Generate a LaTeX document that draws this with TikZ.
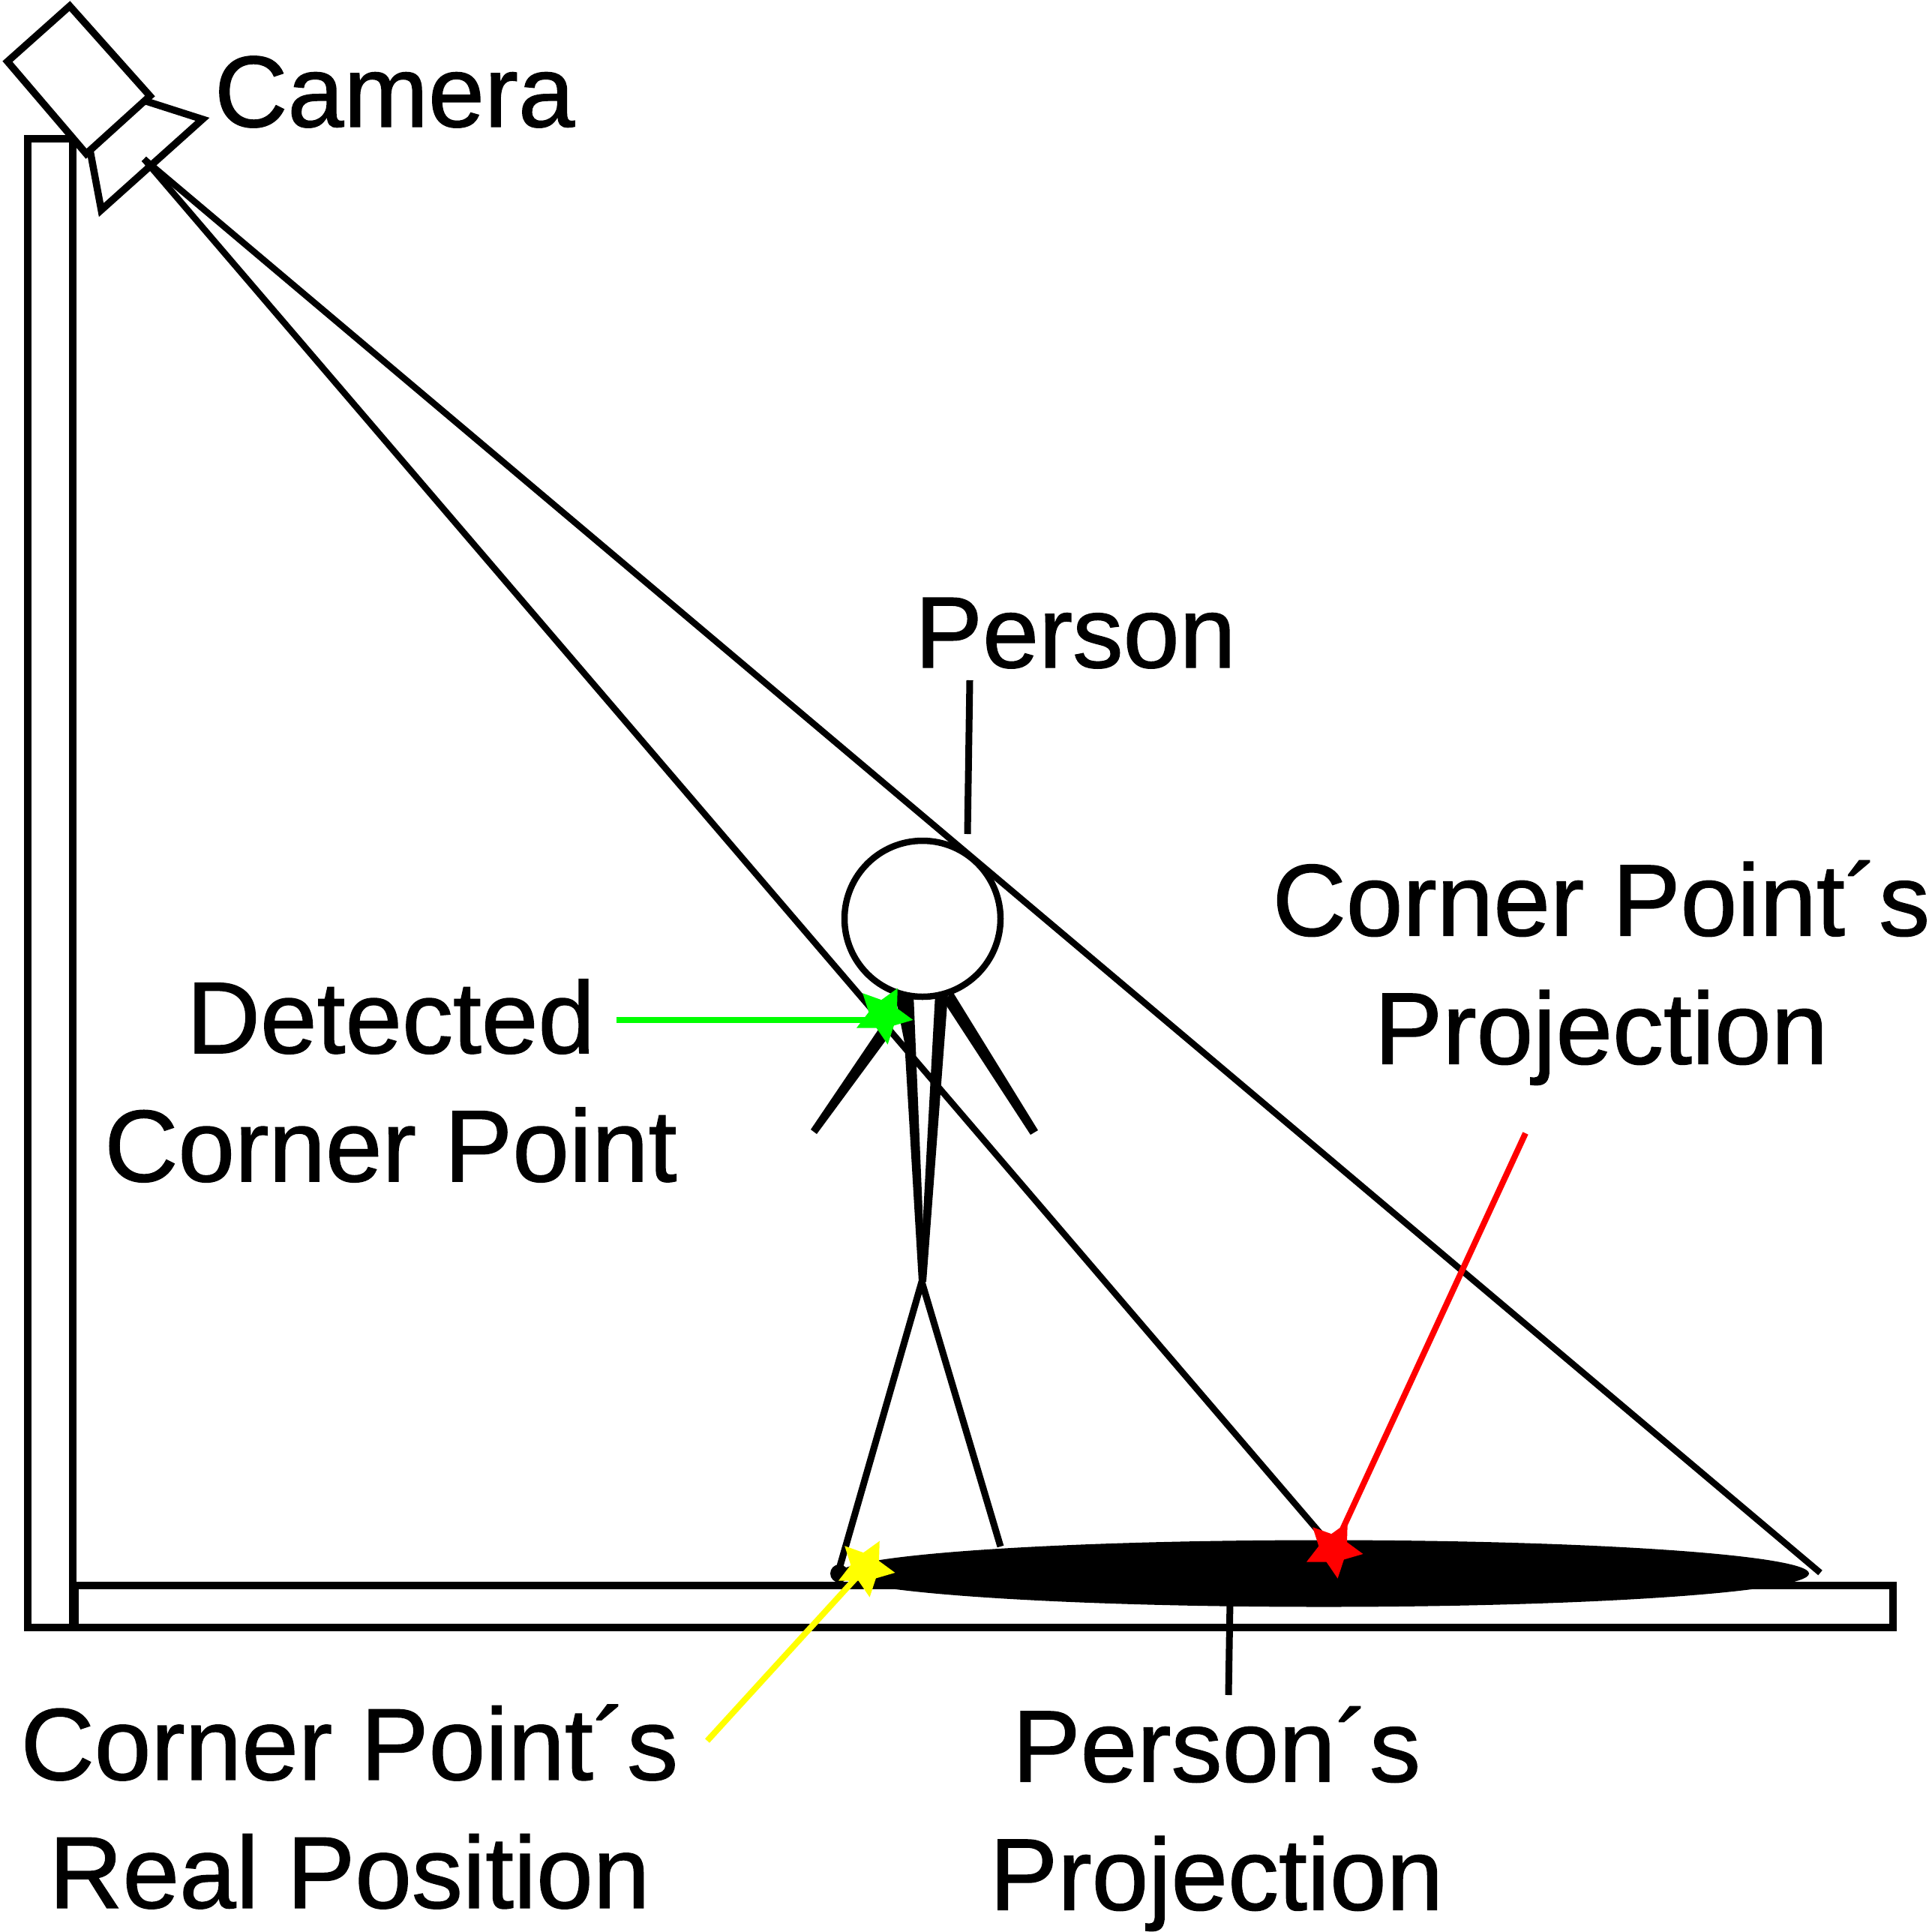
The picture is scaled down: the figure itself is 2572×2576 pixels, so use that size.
\documentclass[tikz,border=0pt]{standalone}
\usepackage{fontspec}
\setmainfont[FakeBold=1]{Liberation Sans}
\usetikzlibrary{shapes.geometric}
\tikzset{
  every picture/.style={x=1pt,y=-1pt},
  ink/.style={draw=black,line width=9.5pt,line join=miter},
  ray/.style={draw=black,line width=8.5pt},
  thin ink/.style={draw=black,line width=9pt},
  limb/.style={fill=black,draw=none},
  label text/.style={inner sep=0pt,outer sep=0pt,align=center,font=\fontsize{136}{171}\selectfont},
  short label/.style={label text,font=\fontsize{135}{171}\selectfont},
  marker/.style={star,star points=5,star point ratio=2.0,inner sep=0pt,minimum size=80pt,draw=none,shape border rotate=-28},
  leader/.style={line width=8pt}
}
\definecolor{pgreen}{RGB}{0,255,0}
\definecolor{pred}{RGB}{255,0,0}
\definecolor{pyellow}{RGB}{255,255,0}
\begin{document}
\begin{tikzpicture}
\useasboundingbox[fill=white] (0,0) rectangle (2572,2576);
% wall and floor
\draw[ink] (37,185) rectangle (97,2170);
\draw[ink] (100,2114) rectangle (2524,2170);
% camera
\draw[ink,fill=white] (93,8) -- (10,82) -- (115,205) -- (200,128) -- cycle;
\draw[ink] (195,135) -- (270,159) -- (135,280) -- (120,200);
% coordinates for the ray ends
\coordinate (apex) at (192,212);
\coordinate (rayEnd) at (2427,2097);
\coordinate (redpos) at (1778,2065);
% person's projection
\node[ellipse,fill=black,inner sep=0pt,minimum width=1294pt,minimum height=89pt] (shadow) at (1765,2098) {};
\fill (1119,2098) circle (12pt);
% rays
\draw[ray] (apex) -- (rayEnd);
\draw[ray] (apex) -- (redpos);
% head
\node[circle,draw=black,line width=8.5pt,inner sep=0pt,minimum size=208pt] (head) at (1230,1225) {};
% body
\coordinate (crotch) at (1229,1709);
\fill[limb] (1193,1325) -- (1218,1325) -- (1234,1709) -- (1225,1709) -- (1206,1390) -- cycle;
\fill[limb] (1247,1325) -- (1264,1325) -- (1235,1709) -- (1226,1709) -- cycle;
\fill[limb] (1195,1335) -- (1175,1367) -- (1081,1506) -- (1089,1512) -- (1190,1375) -- cycle;
\fill[limb] (1258,1335) -- (1270,1322) -- (1384,1507) -- (1374,1513) -- cycle;
\draw[thin ink] (crotch) -- (1120,2088);
\draw[thin ink] (crotch) -- (1334,2062);
% markers and their connectors
\node[marker,fill=pred] (redstar) at (redpos) {};
\node[marker,fill=pgreen] (greenstar) at (1178,1353) {};
\node[marker,fill=pyellow] (yellowstar) at (1154,2090) {};
\coordinate (greenFrom) at (822,1360);
\coordinate (redFrom) at (2034,1511);
\coordinate (yellowFrom) at (943,2321);
\draw[leader,draw=pgreen] (greenFrom) -- (greenFrom -| greenstar.center);
\draw[leader,draw=pred] (redFrom) -- (redstar.center);
\draw[leader,draw=pyellow] (yellowFrom) -- (yellowstar.center);
% plain leaders
\coordinate (personTop) at (1293,907);
\coordinate (personBottom) at (1290,1112);
\coordinate (shadowLabelEnd) at (1638,2260);
\draw[thin ink] (personTop) -- (personBottom);
\draw[thin ink] (1640,2135) -- (shadowLabelEnd);
% labels
\node[short label,anchor=base west] (lcam) at (286,169) {Camera};
\node[short label,anchor=base west] (lper) at (1220,890) {Person};
\node[label text,anchor=center] (lcpp) at (2135,1297) {Corner Point´s\\Projection};
\node[label text,anchor=center] (ldet) at (521,1441) {Detected\\Corner Point};
\node[label text,anchor=center] (lreal) at (466,2409) {Corner Point´s\\Real Position};
\node[label text,anchor=center] (lpp) at (1622,2425) {Person´s\\Projection};
\end{tikzpicture}
\end{document}
